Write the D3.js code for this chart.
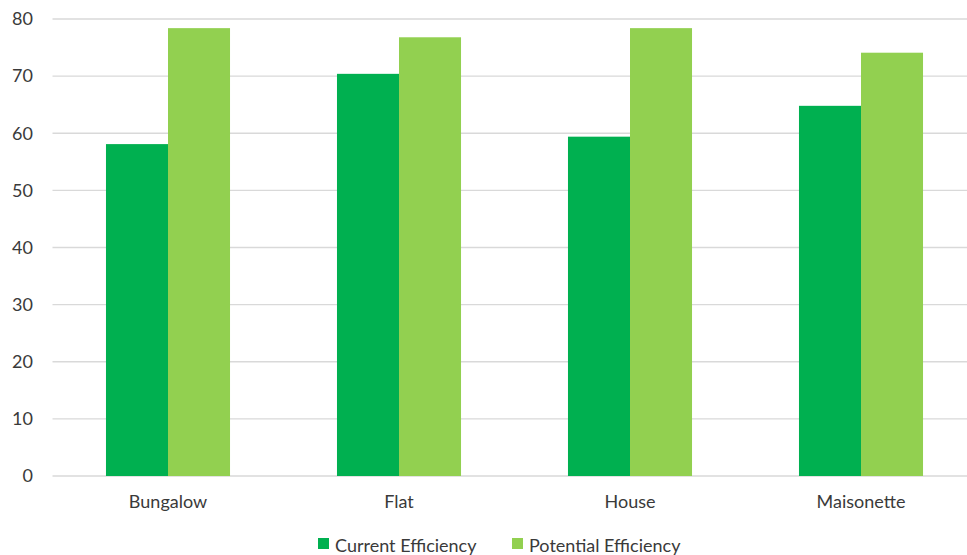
<!DOCTYPE html>
<html><head><meta charset="utf-8">
<script src="https://cdn.jsdelivr.net/npm/d3@7/dist/d3.min.js"></script>
<style>body{margin:0;background:#fff;}svg{display:block;font-family:Lato,"Open Sans",sans-serif;}</style>
</head><body>
<svg id="c" width="967" height="555"></svg>
<script>
const categories = ["Bungalow", "Flat", "House", "Maisonette"];
const seriesNames = ["Current Efficiency", "Potential Efficiency"];
const currentEfficiency = [58.1, 70.4, 59.4, 64.8];
const potentialEfficiency = [78.4, 76.8, 78.4, 74.1];
const yTicks = [0, 10, 20, 30, 40, 50, 60, 70, 80];
const colors = ["#00B050", "#92D050"];

const svg = d3.select("#c");
const plotLeft = 52.5, plotRight = 976.5, plotTop = 19, plotBottom = 476;
const x = d3.scaleBand().domain(categories).range([plotLeft, plotRight]).paddingInner(0.463).paddingOuter(0.2315);
const x1 = d3.scaleBand().domain(seriesNames).range([0, x.bandwidth()]);
const y = d3.scaleLinear().domain([0, 80]).range([plotBottom, plotTop]);
const textColor = "#3a3a3a";

// gridlines
svg.append("g").selectAll("line").data(yTicks).join("line")
  .attr("x1", plotLeft).attr("x2", 967)
  .attr("y1", d => y(d)).attr("y2", d => y(d))
  .attr("stroke", "#d9d9d9").attr("stroke-width", 1.3);

// y axis labels
const yAxis = d3.axisLeft(y).tickValues(yTicks).tickSize(0).tickPadding(0);
const ya = svg.append("g").attr("transform", `translate(33,0)`).call(yAxis);
ya.select(".domain").remove();
ya.selectAll("text").attr("font-size", 18).attr("fill", textColor).attr("font-family", "Lato, 'Open Sans', sans-serif");

// bars
const data = categories.map((c, i) => ({c, vals: [currentEfficiency[i], potentialEfficiency[i]]}));
const g = svg.append("g").selectAll("g").data(data).join("g")
  .attr("transform", d => `translate(${x(d.c)},0)`);
g.selectAll("rect").data(d => d.vals.map((v, j) => ({s: seriesNames[j], v, j}))).join("rect")
  .attr("x", d => x1(d.s)).attr("width", x1.bandwidth())
  .attr("y", d => y(d.v)).attr("height", d => y(0) - y(d.v))
  .attr("fill", d => colors[d.j]);

// x axis labels
const xAxis = d3.axisBottom(x).tickSize(0).tickPadding(0);
const xa = svg.append("g").attr("transform", `translate(0,508)`).call(xAxis);
xa.select(".domain").remove();
xa.selectAll("text").attr("font-size", 18).attr("fill", textColor).attr("dy", null).attr("y", 0)
  .attr("font-family", "Lato, 'Open Sans', sans-serif");

// legend
const legendX = [318, 512];
const lg = svg.append("g").selectAll("g").data(seriesNames).join("g")
  .attr("transform", (d, i) => `translate(${legendX[i]},538)`);
lg.append("rect").attr("width", 11).attr("height", 11).attr("fill", (d, i) => colors[i]);
lg.append("text").attr("x", 17).attr("y", 13.5).attr("font-size", 18)
  .attr("fill", textColor).text(d => d);
</script>
</body></html>
